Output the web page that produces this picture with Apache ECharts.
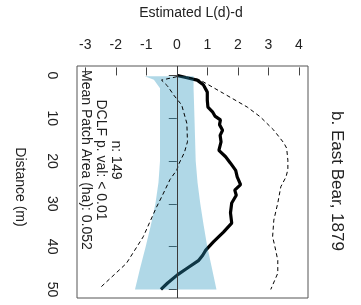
<!DOCTYPE html>
<html>
<head>
<meta charset="utf-8">
<script src="https://cdn.jsdelivr.net/npm/echarts@6/dist/echarts.min.js"></script>
<style>
  html, body { margin: 0; padding: 0; background: #fff; }
  #chart { width: 361px; height: 305px; }
</style>
</head>
<body>
<div id="chart"></div>
<script>
// tick labels
var xTicks = [-3, -2, -1, 0, 1, 2, 3, 4];
var yTicks = [0, 10, 20, 30, 40, 50];

// simulation envelope band (distance, low, high)
var bandD  = [0.2, 1, 3, 10, 20, 25, 30, 35, 40, 45, 50];
var bandLo = [-1.05, -0.75, -0.55, -0.55, -0.55, -0.6, -0.7, -0.85, -1.02, -1.2, -1.37];
var bandHi = [0.55, 0.55, 0.55, 0.58, 0.62, 0.68, 0.77, 0.88, 1.0, 1.15, 1.3];

// observed L(d)-d
var obsD = [0, 0.5, 1.1, 2.2, 3.9, 5.8, 7.4, 8.5, 9.5, 10.4, 11.5, 12.8, 14, 15.5, 17.5, 19, 20.5, 22.2, 23.7, 24.5, 25.5, 26.8, 28, 29.8, 32.1, 34.5, 36.6, 38.9, 40.8, 42, 43.2, 45, 46.6, 48.5, 50];
var obsL = [0, 0.3, 0.67, 0.87, 1.0, 1.0, 1.02, 1.17, 1.25, 1.43, 1.4, 1.5, 1.42, 1.45, 1.38, 1.6, 1.76, 1.93, 1.98, 2.03, 2.09, 1.9, 1.95, 1.8, 1.76, 1.8, 1.53, 1.2, 0.95, 0.85, 0.72, 0.35, 0.02, -0.3, -0.52];

// upper dashed envelope
var hiD = [0.5, 1.1, 4.2, 7.4, 9.7, 12.8, 15.8, 17, 19.8, 22, 23.7, 26, 29.8, 33.8, 37.7, 39.5, 40.8, 43.2, 46.2, 50];
var hiL = [0.4, 0.77, 1.53, 2.31, 2.74, 3.18, 3.51, 3.6, 3.64, 3.64, 3.58, 3.41, 3.31, 3.18, 3.14, 3.2, 3.24, 3.31, 3.31, 3.08];

// lower dashed envelope
var loD = [0.3, 1.1, 2.5, 4.6, 6.9, 11.2, 15.5, 18, 20.5, 22.1, 24.3, 28.3, 30.7, 37.7, 43.9, 49.4];
var loL = [0, -0.5, -0.3, -0.1, 0.16, 0.33, 0.35, 0.25, 0.08, 0, -0.22, -0.49, -0.66, -1.1, -1.65, -2.48];

var X_MIN = -3.27, X_MAX = 4.3;
var Y_MIN = -2.2, Y_MAX = 52;

function pairs(xs, ys) {
  var out = [];
  for (var i = 0; i < xs.length; i++) out.push([xs[i], ys[i]]);
  return out;
}

var chart = echarts.init(document.getElementById('chart'), null, { renderer: 'canvas' });

var FONT = 'Liberation Sans, Arial, sans-serif';

var option = {
  animation: false,
  grid: {
    show: true,
    left: 77, right: 53, top: 66, bottom: 7,
    borderColor: '#555', borderWidth: 1,
    backgroundColor: 'transparent'
  },
  xAxis: {
    type: 'value',
    position: 'top',
    min: X_MIN, max: X_MAX,
    axisLine: { show: false },
    splitLine: { show: false },
    axisTick: { show: true, inside: false, length: 8, lineStyle: { color: '#444' }, customValues: xTicks },
    axisLabel: { margin: 14, fontSize: 14, color: '#222', fontFamily: FONT, customValues: xTicks }
  },
  yAxis: {
    type: 'value',
    inverse: true,
    min: Y_MIN, max: Y_MAX,
    axisLine: { show: false },
    splitLine: { show: false },
    axisTick: { show: true, inside: false, length: 8, lineStyle: { color: '#444' }, customValues: yTicks },
    axisLabel: { show: false }
  },
  series: [
    {
      // observed
      type: 'line',
      data: pairs(obsL, obsD),
      showSymbol: false,
      z: 2,
      lineStyle: { color: '#000', width: 3.2 }
    },
    {
      // envelope band
      type: 'custom',
      z: 3,
      data: bandD.map(function (d, i) { return [bandLo[i], d, bandHi[i]]; }),
      renderItem: function (params, api) {
        if (params.dataIndex !== 0) return;
        var pts = [];
        for (var i = 0; i < bandD.length; i++) pts.push(api.coord([bandLo[i], bandD[i]]));
        for (var j = bandD.length - 1; j >= 0; j--) pts.push(api.coord([bandHi[j], bandD[j]]));
        return {
          type: 'polygon',
          shape: { points: pts },
          style: { fill: 'rgba(40,148,189,0.37)', stroke: null }
        };
      }
    },
    {
      type: 'line',
      data: pairs(hiL, hiD),
      showSymbol: false,
      z: 4,
      lineStyle: { color: '#000', width: 1, type: [4, 3] }
    },
    {
      type: 'line',
      data: pairs(loL, loD),
      showSymbol: false,
      z: 4,
      lineStyle: { color: '#000', width: 1, type: [4, 3] },
      markLine: {
        silent: true,
        symbol: 'none',
        label: { show: false },
        lineStyle: { color: '#3a3a3a', width: 1, type: 'solid' },
        data: [{ xAxis: 0 }]
      }
    },
    {
      // rotated y tick labels, placed with the axis scale
      type: 'custom',
      clip: false,
      silent: true,
      data: yTicks.map(function (v) { return [X_MIN, v]; }),
      renderItem: function (params, api) {
        var p = api.coord([api.value(0), api.value(1)]);
        return {
          type: 'text',
          x: p[0] - 25, y: p[1],
          rotation: -Math.PI / 2,
          style: {
            text: String(api.value(1)), font: '14px ' + FONT, fill: '#222',
            align: 'center', verticalAlign: 'middle'
          }
        };
      }
    }
  ],
  graphic: [
    {
      type: 'text', x: 191, y: 13,
      style: { text: 'Estimated L(d)-d', font: '14px ' + FONT, fill: '#222', align: 'center', verticalAlign: 'middle' }
    },
    {
      type: 'text', x: 20, y: 187, rotation: -Math.PI / 2,
      style: { text: 'Distance (m)', font: '14px ' + FONT, fill: '#222', align: 'center', verticalAlign: 'middle' }
    },
    {
      type: 'text', x: 337, y: 181, rotation: -Math.PI / 2,
      style: { text: 'b. East Bear, 1879', font: '17px ' + FONT, fill: '#222', align: 'center', verticalAlign: 'middle' }
    },
    {
      type: 'text', x: 101, y: 160, rotation: -Math.PI / 2, z: 10,
      style: {
        text: 'n: 149\nDCLF p. val: < 0.01\nMean Patch Area (ha): 0.052',
        font: '14px ' + FONT, lineHeight: 15, fill: '#222', align: 'center', verticalAlign: 'middle'
      }
    }
  ]
};

chart.setOption(option);
</script>
</body>
</html>
